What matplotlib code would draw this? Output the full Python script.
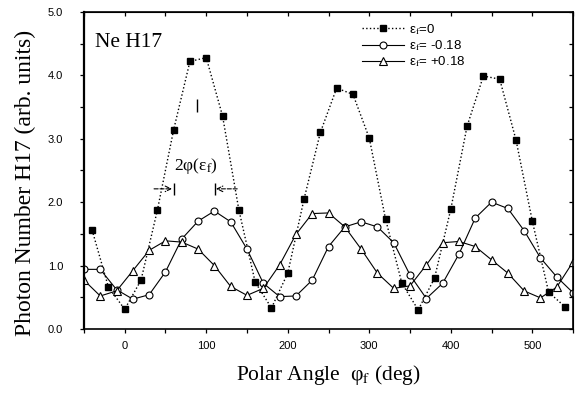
import matplotlib
matplotlib.use('Agg')
import matplotlib.pyplot as plt
from matplotlib.ticker import MultipleLocator, FormatStrFormatter

plt.rcParams['mathtext.fontset'] = 'stix'

# --- data ---
angle_sq = [-40, -20, 0, 20, 40, 60, 80, 100, 120, 140, 160, 180, 200, 220, 240,
            260, 280, 300, 320, 340, 360, 380, 400, 420, 440, 460, 480, 500, 520, 540]
photon_e0 = [1.56, 0.66, 0.31, 0.77, 1.87, 3.14, 4.22, 4.28, 3.36, 1.88, 0.74, 0.33,
             0.88, 2.05, 3.10, 3.80, 3.70, 3.01, 1.73, 0.72, 0.30, 0.80, 1.89, 3.20,
             3.99, 3.94, 2.98, 1.70, 0.58, 0.35]

angle_odd = [-50, -30, -10, 10, 30, 50, 70, 90, 110, 130, 150, 170, 190, 210, 230,
             250, 270, 290, 310, 330, 350, 370, 390, 410, 430, 450, 470, 490, 510,
             530, 550]
photon_em = [0.94, 0.94, 0.62, 0.47, 0.54, 0.90, 1.42, 1.70, 1.86, 1.69, 1.26, 0.72,
             0.51, 0.52, 0.77, 1.30, 1.61, 1.69, 1.61, 1.36, 0.85, 0.48, 0.72, 1.18,
             1.75, 2.00, 1.90, 1.55, 1.12, 0.82, 0.57]
photon_ep = [0.77, 0.52, 0.60, 0.92, 1.24, 1.39, 1.37, 1.26, 1.00, 0.67, 0.53, 0.64,
             1.01, 1.49, 1.82, 1.83, 1.61, 1.26, 0.88, 0.64, 0.68, 1.01, 1.36, 1.38,
             1.30, 1.09, 0.88, 0.60, 0.49, 0.66, 1.06]

serif = 'Liberation Serif'
sans = 'Liberation Sans'

fig = plt.figure(figsize=(5.83, 3.93), dpi=100)
ax = fig.add_axes([0.144, 0.163, 0.839, 0.8065])

ax.plot(angle_sq, photon_e0, ls=':', color='black', lw=1.0, marker='s',
        ms=4.5, mfc='black', mec='black', label=r'ε$_{\mathrm{f}}$=0')
ax.plot(angle_odd, photon_em, ls='-', color='black', lw=0.8, marker='o',
        ms=5, mfc='white', mec='black', mew=0.8, label=r'ε$_{\mathrm{f}}$= -0.18')
ax.plot(angle_odd, photon_ep, ls='-', color='black', lw=0.8, marker='^',
        ms=5.5, mfc='white', mec='black', mew=0.8, label=r'ε$_{\mathrm{f}}$= +0.18')

ax.set_xlim(-50, 550)
ax.set_ylim(0, 5.0)
ax.xaxis.set_major_locator(MultipleLocator(100))
ax.xaxis.set_minor_locator(MultipleLocator(50))
ax.yaxis.set_major_locator(MultipleLocator(1.0))
ax.yaxis.set_minor_locator(MultipleLocator(0.5))
ax.yaxis.set_major_formatter(FormatStrFormatter('%.1f'))

for which in ('major', 'minor'):
    ax.tick_params(axis='both', which=which, direction='out', length=3, width=0.9,
                   top=False, right=False)
ax.tick_params(axis='x', which='major', labelsize=8, pad=6)
ax.tick_params(axis='y', which='major', labelsize=8, pad=12)
for lab in ax.get_xticklabels() + ax.get_yticklabels():
    lab.set_fontfamily(sans)

# inward ticks on top and right
sec_x = ax.secondary_xaxis('top')
sec_x.xaxis.set_major_locator(MultipleLocator(50))
sec_x.tick_params(direction='in', length=3, width=0.9, labeltop=False)
sec_y = ax.secondary_yaxis('right')
sec_y.yaxis.set_major_locator(MultipleLocator(0.5))
sec_y.tick_params(direction='in', length=3, width=0.9, labelright=False)

for sp in ax.spines.values():
    sp.set_linewidth(1.2)
ax.spines['left'].set_linewidth(1.6)

ax.set_xlabel(r'Polar Angle  φ$_{\mathrm{f}}$ (deg)', fontfamily=serif,
              fontsize=15.5, labelpad=8)
ax.set_ylabel('Photon Number H17 (arb. units)', fontfamily=serif, fontsize=17)
ax.yaxis.set_label_coords(-0.098, 0.46)

ax.text(-37, 4.45, 'Ne H17', fontfamily=serif, fontsize=15.5)

# width annotation
ax.text(60, 2.5, r'2φ(ε$_{\mathrm{f}}$)', fontfamily=serif, fontsize=12.5)
ax.annotate('', xy=(58, 2.21), xytext=(36, 2.21),
            arrowprops=dict(arrowstyle='->', ls='--', lw=0.8, color='black',
                            shrinkA=0, shrinkB=0))
ax.annotate('', xy=(112, 2.21), xytext=(138, 2.21),
            arrowprops=dict(arrowstyle='->', ls='--', lw=0.8, color='black',
                            shrinkA=0, shrinkB=0))
ax.vlines([61, 111], 2.12, 2.30, color='black', lw=1.0)
ax.vlines([89], 3.42, 3.62, color='black', lw=1.0)

leg = ax.legend(loc='upper left', bbox_to_anchor=(0.557, 0.985), frameon=False,
                handlelength=3.2, handletextpad=0.4, labelspacing=0.1,
                prop={'family': sans, 'size': 9.5}, borderaxespad=0)

fig.savefig('out.png', dpi=100)
